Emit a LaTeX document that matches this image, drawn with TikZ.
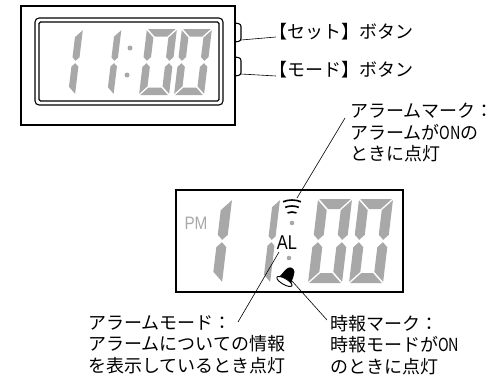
\documentclass[tikz,border=0pt]{standalone}
\usepackage{fontspec}
\setmainfont{Noto Sans CJK JP}
\newfontfamily\lcdfont{Liberation Sans}
\usetikzlibrary{positioning}

\definecolor{lcdgray}{gray}{0.66}

% seven-segment "0", lower left corner at #1, width #2, height #3, bar #4
\newcommand{\segzero}[4]{%
  \begin{scope}[shift={#1}, y=1pt, xslant=0.12]
    \def\sgW{#2}\def\sgH{#3}\def\sgT{#4}\def\sgG{1.2}
    \fill[lcdgray] (\sgG,\sgH) -- (\sgW-\sgG,\sgH) -- (\sgW-\sgT-\sgG,\sgH-\sgT) -- (\sgT+\sgG,\sgH-\sgT) -- cycle;
    \fill[lcdgray] (\sgG,0) -- (\sgW-\sgG,0) -- (\sgW-\sgT-\sgG,\sgT) -- (\sgT+\sgG,\sgT) -- cycle;
    \fill[lcdgray] (0,\sgH-\sgG) -- (0,\sgH/2+\sgT/2+\sgG) -- (\sgT/2,\sgH/2+\sgG) -- (\sgT,\sgH/2+\sgT/2+\sgG) -- (\sgT,\sgH-\sgT-\sgG) -- cycle;
    \fill[lcdgray] (0,\sgG) -- (0,\sgH/2-\sgT/2-\sgG) -- (\sgT/2,\sgH/2-\sgG) -- (\sgT,\sgH/2-\sgT/2-\sgG) -- (\sgT,\sgT+\sgG) -- cycle;
    \fill[lcdgray] (\sgW,\sgH-\sgG) -- (\sgW,\sgH/2+\sgT/2+\sgG) -- (\sgW-\sgT/2,\sgH/2+\sgG) -- (\sgW-\sgT,\sgH/2+\sgT/2+\sgG) -- (\sgW-\sgT,\sgH-\sgT-\sgG) -- cycle;
    \fill[lcdgray] (\sgW,\sgG) -- (\sgW,\sgH/2-\sgT/2-\sgG) -- (\sgW-\sgT/2,\sgH/2-\sgG) -- (\sgW-\sgT,\sgH/2-\sgT/2-\sgG) -- (\sgW-\sgT,\sgT+\sgG) -- cycle;
  \end{scope}}

% seven-segment "1", lower left corner at #1, height #2, bar #3
\newcommand{\segone}[3]{%
  \begin{scope}[shift={#1}, y=1pt, xslant=0.12]
    \def\sgH{#2}\def\sgT{#3}\def\sgG{1.2}
    \fill[lcdgray] (\sgT,\sgH-\sgG) -- (\sgT,\sgH/2+\sgT/2+\sgG) -- (\sgT/2,\sgH/2+\sgG) -- (0,\sgH/2+\sgT/2+\sgG) -- (0,\sgH-\sgT-\sgG) -- cycle;
    \fill[lcdgray] (\sgT,\sgG) -- (\sgT,\sgH/2-\sgT/2-\sgG) -- (\sgT/2,\sgH/2-\sgG) -- (0,\sgH/2-\sgT/2-\sgG) -- (0,\sgT+\sgG) -- cycle;
  \end{scope}}

\begin{document}
\begin{tikzpicture}[x=1pt, y=-1pt,
    txt/.style={font=\fontsize{18}{21.5}\selectfont, inner sep=0pt, align=left},
    leader/.style={line width=0.6pt},
    btn/.style={line width=1.1pt, rounded corners=2.5pt}]
    \useasboundingbox (0,0) rectangle (494,383);

    % Clock body and side buttons
    \draw[line width=1.8pt] (21,6) rectangle (235,125);
    \draw[line width=1.1pt, rounded corners=4pt] (35,18) rectangle (223,105);
    \draw[line width=1.1pt, rounded corners=1.5pt] (39,22) rectangle (219,101);
    \draw[btn] (235,23) -- (241,24) -- (241,41) -- (235,42);
    \draw[btn] (235,57) -- (241,58) -- (241,75) -- (235,76);
    \coordinate (setbtn) at (241,40);
    \coordinate (modebtn) at (241,74);

    % 11:00 on the clock
    \segone{(68,95)}{66}{7}
    \segone{(107,95)}{66}{6.5}
    \fill[lcdgray] (130,48) circle (2.5);
    \fill[lcdgray] (127,75) circle (2.5);
    \foreach \x in {139,174}{
        \segzero{(\x,95)}{30}{66}{7.5}
    }

    % Button labels
    \node[txt, anchor=west] (setlbl) at (269,32) {【セット】ボタン};
    \node[txt, anchor=west] (modelbl) at (269,70) {【モード】ボタン};
    \coordinate (settip) at (276,37);
    \coordinate (modetip) at (276,76);
    \draw[leader] (setbtn) -- (settip);
    \draw[leader] (modebtn) -- (modetip);

    % Display close-up
    \draw[line width=1.3pt] (176,190) rectangle (403,292);
    \node[font=\lcdfont\fontsize{18}{18}\selectfont, text=lcdgray, inner sep=0pt] (pm) at (196,223) {\scalebox{0.85}[1]{PM}};
    \segone{(212,283)}{84}{10}
    \segone{(263,283)}{84}{7}
    \foreach \x in {308,349}{
        \segzero{(\x,283)}{34}{84}{10}
    }
    \fill[lcdgray] (292,223) circle (2.3);
    \fill[lcdgray] (289,258) circle (2.3);

    % Alarm mark
    \begin{scope}[shift={(292,224)}, y=1pt]
        \foreach \r in {12,18,24}{
            \draw[line width=1.6pt] (68:\r) arc (68:112:\r);
        }
    \end{scope}
    \node[font=\lcdfont\fontsize{20}{20}\selectfont, inner sep=0pt] (al) at (287,243) {\scalebox{0.82}[1]{AL}};

    % Chime bell
    \begin{scope}[shift={(287,277)}, y=1pt, rotate=-30, scale=1.15]
        \fill (-7,-4) .. controls (-4,-2) and (-6,9) .. (0,9) .. controls (6,9) and (4,-2) .. (7,-4) -- cycle;
        \draw[fill=white, line width=0.9pt] (0,-4.5) ellipse (7.5 and 2.6);
    \end{scope}

    % Callouts
    \node[txt, anchor=north west] (almark) at (350,103) {アラームマーク：\\アラームが\scalebox{0.8}[1]{ON}の\\ときに点灯};
    \node[txt, anchor=north west] (almode) at (88,315) {アラームモード：\\アラームについての情報\\を表示しているとき点灯};
    \node[txt, anchor=north west] (chime) at (330,315) {時報マーク：\\時報モードが\scalebox{0.8}[1]{ON}\\のときに点灯};
    \coordinate (wavetip) at (297,198);
    \coordinate (almarktip) at (345,118);
    \coordinate (altip) at (279,252);
    \coordinate (almodetip) at (238,322);
    \coordinate (belltip) at (292,281);
    \coordinate (chimetip) at (327,320);
    \draw[leader] (wavetip) -- (almarktip);
    \draw[leader] (altip) -- (almodetip);
    \draw[leader] (belltip) -- (chimetip);
\end{tikzpicture}
\end{document}
